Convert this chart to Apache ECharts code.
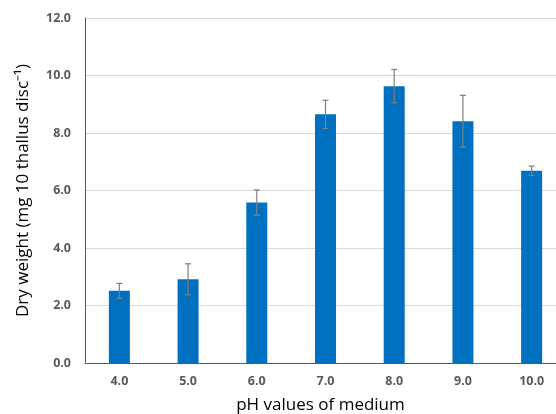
<!DOCTYPE html>
<html><head><meta charset="utf-8">
<script src="https://cdn.jsdelivr.net/npm/echarts@6/dist/echarts.min.js"></script>
<style>html,body{margin:0;padding:0;background:#fff}#c{width:556px;height:414px}</style>
</head><body><div id="c"></div>
<script>
var categories = ['4.0','5.0','6.0','7.0','8.0','9.0','10.0'];
var values = [2.51, 2.91, 5.58, 8.65, 9.63, 8.41, 6.69];
var errors = [0.26, 0.54, 0.44, 0.49, 0.58, 0.90, 0.16];
var yTicks = [0, 2, 4, 6, 8, 10, 12];

var chart = echarts.init(document.getElementById('c'));
var errData = values.map(function(v, i){ return [i, v - errors[i], v + errors[i]]; });
chart.setOption({
  animation: false,
  grid: {left: 85, top: 18, width: 481, height: 345, containLabel: false, outerBoundsMode: 'none'},
  xAxis: {
    type: 'category', data: categories,
    axisLine: {lineStyle: {color: '#595959', width: 1}},
    axisTick: {show: false},
    axisLabel: {color: '#595959', fontWeight: 'bold', fontSize: 12.5, fontFamily: 'Open Sans', margin: 12},
    name: 'pH values of medium', nameLocation: 'middle', nameGap: 34,
    nameTextStyle: {color: '#000', fontSize: 17, fontFamily: 'Open Sans', padding: [0, 10, 0, 0]}
  },
  yAxis: {
    type: 'value', min: yTicks[0], max: yTicks[yTicks.length-1], interval: 2,
    axisLine: {show: true, lineStyle: {color: '#595959', width: 1}},
    axisTick: {show: false},
    splitLine: {lineStyle: {color: '#d9d9d9', width: 1}},
    axisLabel: {color: '#595959', fontWeight: 'bold', fontSize: 12.5, fontFamily: 'Open Sans', margin: 14,
      formatter: function(v){ return v.toFixed(1); }},
    name: 'Dry weight (mg 10 thallus disc\u207B\u00B9)', nameLocation: 'middle', nameGap: 53,
    nameTextStyle: {color: '#000', fontSize: 17, fontFamily: 'Open Sans'}
  },
  series: [{
    type: 'bar', data: values, barWidth: 21,
    itemStyle: {color: '#0070C0'}
  }, {
    type: 'custom', data: errData, z: 10,
    renderItem: function(params, api){
      var x = api.value(0);
      var lo = api.coord([x, api.value(1)]);
      var hi = api.coord([x, api.value(2)]);
      var hw = 3;
      var st = {stroke: '#7f7f7f', lineWidth: 1.2};
      return {type: 'group', children: [
        {type: 'line', shape: {x1: hi[0], y1: hi[1], x2: lo[0], y2: lo[1]}, style: st},
        {type: 'line', shape: {x1: hi[0]-hw, y1: hi[1], x2: hi[0]+hw, y2: hi[1]}, style: st},
        {type: 'line', shape: {x1: lo[0]-hw, y1: lo[1], x2: lo[0]+hw, y2: lo[1]}, style: st}
      ]};
    }
  }]
});
</script></body></html>
